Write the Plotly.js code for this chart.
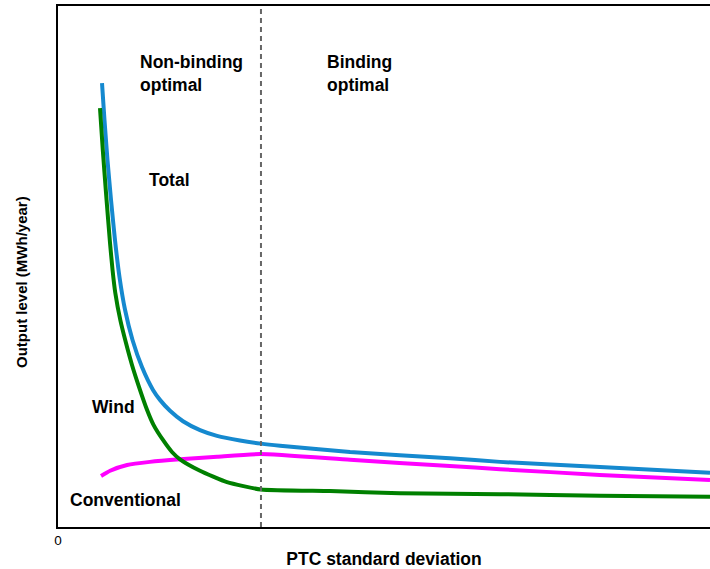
<!DOCTYPE html>
<html>
<head>
<meta charset="utf-8">
<script src="https://cdn.plot.ly/plotly-3.0.1.min.js"></script>
<style>html,body{margin:0;padding:0;background:#fff;}#chart{width:710px;height:569px;}</style>
</head>
<body>
<div id="chart"></div>
<script>
// x: PTC standard deviation (arbitrary units, 0..10), y: output level (arbitrary units, 0..10)
const totalX = [0.675, 0.713, 0.759, 0.813, 0.874, 0.943, 1.028, 1.143, 1.288, 1.457, 1.564, 1.718, 1.917, 2.178, 2.439, 2.791, 3.113, 3.405, 4.479, 6.012, 6.779, 8.313, 10.0];
const totalY = [8.52, 7.81, 7.04, 6.28, 5.51, 4.80, 4.17, 3.59, 3.07, 2.63, 2.44, 2.23, 2.03, 1.86, 1.75, 1.66, 1.60, 1.56, 1.44, 1.32, 1.25, 1.15, 1.04];

const windX = [0.644, 0.687, 0.739, 0.798, 0.837, 0.879, 0.956, 1.043, 1.135, 1.242, 1.365, 1.465, 1.610, 1.748, 1.871, 2.178, 2.592, 3.113, 4.172, 5.245, 6.779, 8.313, 10.0];
const windY = [8.04, 7.24, 6.37, 5.45, 4.93, 4.49, 3.97, 3.53, 3.11, 2.69, 2.25, 1.96, 1.67, 1.44, 1.30, 1.08, 0.86, 0.72, 0.69, 0.65, 0.63, 0.60, 0.58];

const convX = [0.66, 0.80, 1.06, 1.41, 1.87, 2.44, 3.10, 4.48, 6.01, 6.78, 8.31, 10.0];
const convY = [0.98, 1.08, 1.19, 1.25, 1.30, 1.35, 1.40, 1.29, 1.17, 1.11, 1.00, 0.90];

const bindingX = 3.113;
const xTickVals = [0];
const xTickText = ['0'];

const FONT = 'Liberation Sans, Arial, sans-serif';

const traces = [
  {x: totalX, y: totalY, mode: 'lines', line: {color: '#1589cf', width: 4, shape: 'spline', smoothing: 0.5}, name: 'Total'},
  {x: convX, y: convY, mode: 'lines', line: {color: '#ff00ff', width: 4, shape: 'spline', smoothing: 0.5}, name: 'Conventional'},
  {x: windX, y: windY, mode: 'lines', line: {color: '#008000', width: 4, shape: 'spline', smoothing: 0.5}, name: 'Wind'}
];

function px(x){ return (x - 58) / 652; }
function py(y){ return (527 - y) / 521; }

const annotations = [
  {text: '<b>Non-binding</b><br><b>optimal</b>', x: px(138), y: py(73), xanchor: 'left', yanchor: 'middle', align: 'left'},
  {text: '<b>Binding</b><br><b>optimal</b>', x: px(325), y: py(74), xanchor: 'left', yanchor: 'middle', align: 'left'},
  {text: '<b>Total</b>', x: px(147), y: py(180), xanchor: 'left', yanchor: 'middle'},
  {text: '<b>Wind</b>', x: px(90), y: py(407), xanchor: 'left', yanchor: 'middle'},
  {text: '<b>Conventional</b>', x: px(68), y: py(500), xanchor: 'left', yanchor: 'middle'}
].map(a => Object.assign({xref: 'paper', yref: 'paper', showarrow: false, font: {family: FONT, size: 17.5, color: '#000'}}, a));

annotations.push({
  text: '<b>Output level (MWh/year)</b>', textangle: -90,
  xref: 'paper', yref: 'paper', x: px(21), y: py(282), xanchor: 'center', yanchor: 'middle',
  showarrow: false, font: {family: FONT, size: 15, color: '#000'}
});

const layout = {
  width: 710, height: 569,
  margin: {l: 58, r: 0, t: 6, b: 42},
  paper_bgcolor: '#fff', plot_bgcolor: '#fff',
  showlegend: false,
  font: {family: FONT, color: '#000'},
  xaxis: {
    range: [0, 10], showgrid: false, zeroline: false,
    showline: true, linecolor: '#000', linewidth: 2, mirror: true,
    tickmode: 'array', tickvals: xTickVals, ticktext: xTickText, ticks: '',
    tickfont: {family: FONT, size: 13.5, color: '#000'},
    title: {text: '<b>PTC standard deviation</b>', font: {family: FONT, size: 17.5, color: '#000'}, standoff: 12}
  },
  yaxis: {
    range: [0, 10], showgrid: false, zeroline: false,
    showline: true, linecolor: '#000', linewidth: 2, mirror: false,
    showticklabels: false, ticks: ''
  },
  shapes: [
    {type: 'line', xref: 'x', yref: 'paper', x0: bindingX, x1: bindingX, y0: 0, y1: 1,
     line: {color: '#666', width: 2, dash: '5px,4px'}}
  ],
  annotations: annotations
};

Plotly.newPlot('chart', traces, layout, {displayModeBar: false, staticPlot: true});
</script>
</body>
</html>
